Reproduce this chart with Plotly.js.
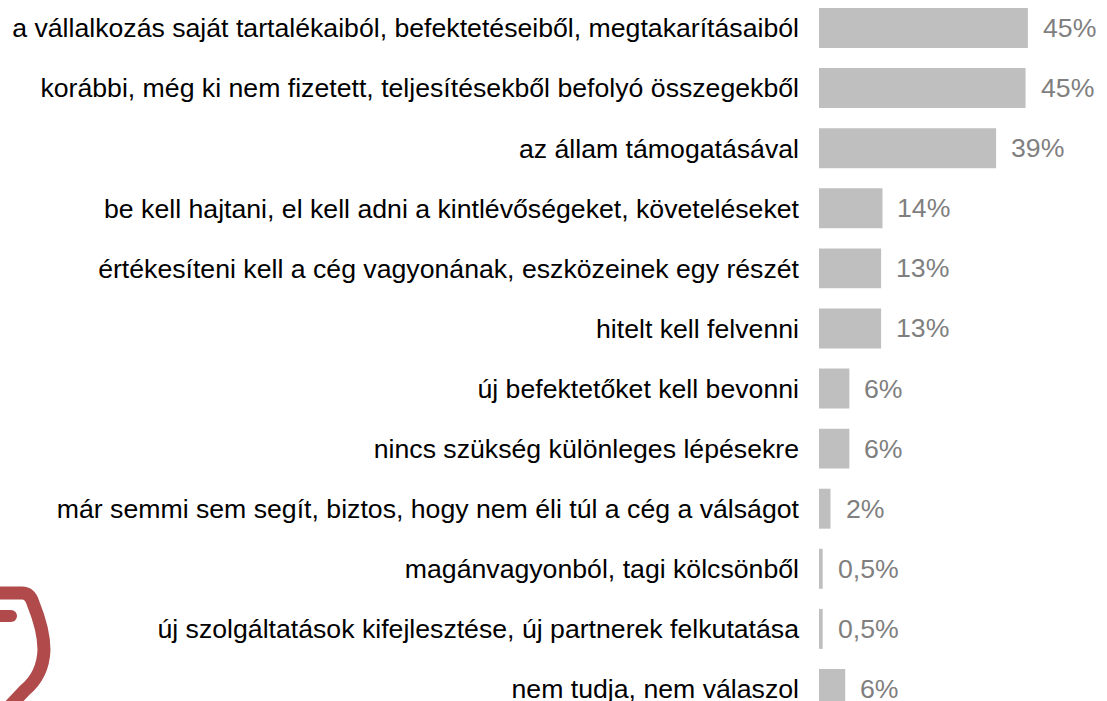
<!DOCTYPE html>
<html>
<head>
<meta charset="utf-8">
<script src="https://cdn.plot.ly/plotly-3.0.1.min.js"></script>
<style>
  html, body { margin: 0; padding: 0; background: #ffffff; overflow: hidden; }
  #wrap { position: relative; width: 1107px; height: 701px; }
  #chart { position: absolute; left: 0; top: 0; width: 1107px; height: 701px; }
  #logo { position: absolute; left: 0; top: 0; pointer-events: none; }
</style>
</head>
<body>
<div id="wrap">
  <div id="chart"></div>
  <svg id="logo" width="1107" height="701" xmlns="http://www.w3.org/2000/svg">
    <path d="M -10 593 L 22 593 Q 30 593 33 603 Q 44 630 44 650 Q 43 675 25 690 L 8 708"
          fill="none" stroke="#b04a4b" stroke-width="13" stroke-linejoin="round" stroke-linecap="butt"/>
    <line x1="-10" y1="616" x2="11" y2="616" stroke="#b04a4b" stroke-width="12" stroke-linecap="round"/>
  </svg>
</div>
<script>
const categories = [
  "a vállalkozás saját tartalékaiból, befektetéseiből, megtakarításaiból",
  "korábbi, még ki nem fizetett, teljesítésekből befolyó összegekből",
  "az állam támogatásával",
  "be kell hajtani, el kell adni a kintlévőségeket, követeléseket",
  "értékesíteni kell a cég vagyonának, eszközeinek egy részét",
  "hitelt kell felvenni",
  "új befektetőket kell bevonni",
  "nincs szükség különleges lépésekre",
  "már semmi sem segít, biztos, hogy nem éli túl a cég a válságot",
  "magánvagyonból, tagi kölcsönből",
  "új szolgáltatások kifejlesztése, új partnerek felkutatása",
  "nem tudja, nem válaszol"
];
const values = [45.4, 44.9, 38.5, 13.8, 13.5, 13.5, 6.6, 6.6, 2.5, 0.8, 0.8, 5.7];
const valueLabels = ["45%", "45%", "39%", "14%", "13%", "13%", "6%", "6%", "2%", "0,5%", "0,5%", "6%"];

const FONT = "Liberation Sans, Arial, sans-serif";
const FSIZE = 26.67;

const trace = {
  type: "bar",
  orientation: "h",
  x: values,
  y: categories,
  marker: { color: "#bfbfbf" },
  hoverinfo: "none"
};

const annotations = categories.map((c, i) => ({
  x: values[i],
  y: c,
  xref: "x",
  yref: "y",
  text: valueLabels[i],
  showarrow: false,
  xanchor: "left",
  yanchor: "middle",
  xshift: 13,
  font: { family: FONT, size: FSIZE, color: "#7f7f7f" }
}));

const layout = {
  width: 1107,
  height: 701,
  margin: { l: 819, r: 0, t: 0, b: 0, pad: 0 },
  paper_bgcolor: "#ffffff",
  plot_bgcolor: "#ffffff",
  showlegend: false,
  bargap: 0.335,
  xaxis: {
    range: [0, 62.6],
    visible: false,
    fixedrange: true
  },
  yaxis: {
    type: "category",
    range: [11.2, -0.466],
    showgrid: false,
    zeroline: false,
    showline: false,
    ticks: "",
    ticklabelstandoff: 19,
    automargin: false,
    tickfont: { family: FONT, size: FSIZE, color: "#000000" },
    fixedrange: true
  },
  annotations: annotations
};

Plotly.newPlot("chart", [trace], layout, { displayModeBar: false, staticPlot: true });
</script>
</body>
</html>
